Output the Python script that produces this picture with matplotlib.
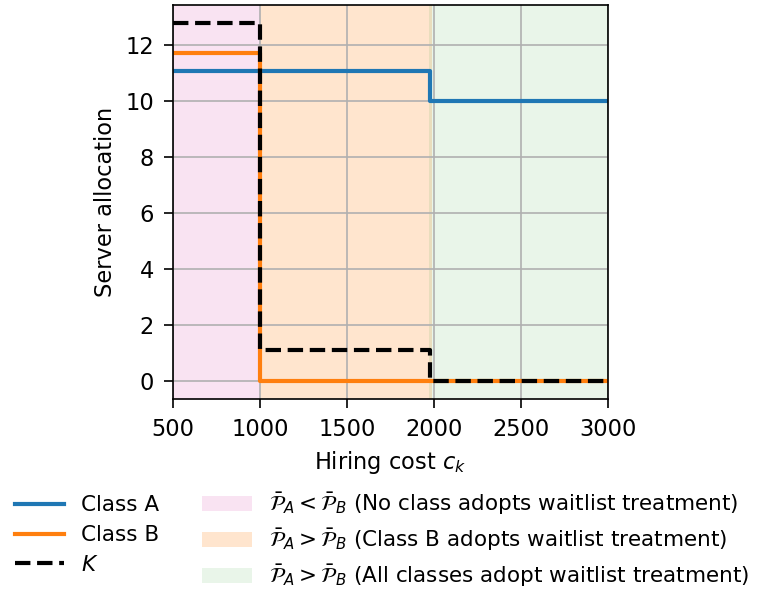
import matplotlib
matplotlib.use("Agg")
import matplotlib.pyplot as plt

# step breakpoints (hiring cost) and allocations, drawn with steps-post
cost = [500, 1000, 1975, 3000]
class_a = [11.07, 11.07, 10.0, 10.0]
class_b = [11.7, 0.0, 0.0, 0.0]
k_total = [12.8, 1.1, 0.0, 0.0]

# shaded regimes (start, end)
regions = [(500, 1000), (1000, 1990), (1970, 3000)]
region_colors = ['tab:pink', 'tab:orange', 'tab:green']
region_alpha = [0.2, 0.2, 0.1]
region_labels = [
    r'$\bar{\mathcal{P}}_A < \bar{\mathcal{P}}_B$ (No class adopts waitlist treatment)',
    r'$\bar{\mathcal{P}}_A > \bar{\mathcal{P}}_B$ (Class B adopts waitlist treatment)',
    r'$\bar{\mathcal{P}}_A > \bar{\mathcal{P}}_B$ (All classes adopt waitlist treatment)',
]

plt.rcParams['font.size'] = 10.8
for axis in ('xtick', 'ytick'):
    plt.rcParams[axis + '.major.size'] = 4.3
    plt.rcParams[axis + '.major.pad'] = 4.7


def plot():
    fig = plt.figure(figsize=(768 / 150, 592 / 150), dpi=150)
    ax = fig.add_axes([0.225, 0.326, 0.567, 0.666])

    l1, = ax.plot(cost, class_a, drawstyle='steps-post', color='tab:blue', lw=2, label='Class A')
    l2, = ax.plot(cost, class_b, drawstyle='steps-post', color='tab:orange', lw=2, label='Class B')
    l3, = ax.plot(cost, k_total, drawstyle='steps-post', color='black', lw=2, ls='--', label=r'$K$')

    patches = []
    for (x0, x1), c, a, lab in zip(regions, region_colors, region_alpha, region_labels):
        patches.append(ax.axvspan(x0, x1, color=c, alpha=a, lw=0, label=lab, zorder=1))

    ax.set_xlim(500, 3000)
    ax.set_xticks([500, 1000, 1500, 2000, 2500, 3000])
    ax.set_yticks([0, 2, 4, 6, 8, 10, 12])
    ax.grid(True)
    ax.set_axisbelow('line')
    ax.set_xlabel(r'Hiring cost $c_k$')
    ax.set_ylabel('Server allocation')

    fig.legend([l1, l2, l3] + patches,
               ['Class A', 'Class B', r'$K$'] + region_labels,
               ncol=2, frameon=False, loc='upper left', fontsize=10.3,
               handlelength=2.3, labelspacing=0.45,
               bbox_to_anchor=(-0.006, 0.203))

    fig.savefig('out.png', dpi=150)


if __name__ == '__main__':
    plot()
